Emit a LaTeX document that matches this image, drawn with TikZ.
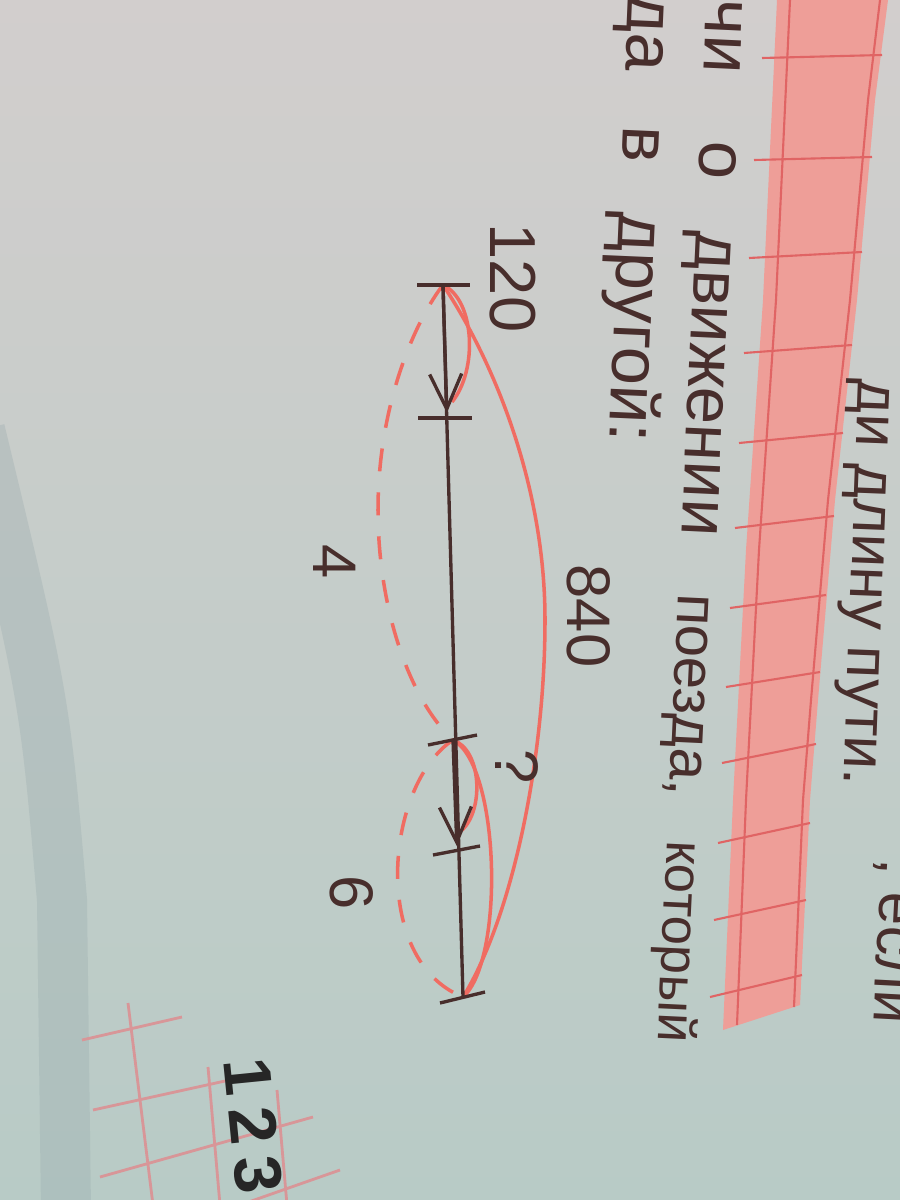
\documentclass[tikz,border=0pt]{standalone}
\usepackage{fontspec}
\setmainfont{Liberation Sans}
\newfontfamily\pagenofont[LetterSpace=18]{Liberation Sans}
\usetikzlibrary{arrows.meta,calc}
\definecolor{ink}{RGB}{72,46,44}
\definecolor{pen}{RGB}{240,108,98}
\definecolor{band}{RGB}{238,158,152}
\definecolor{bandline}{RGB}{224,100,100}
\definecolor{grid}{RGB}{216,150,152}
\definecolor{papertop}{RGB}{210,206,205}
\definecolor{paperbot}{RGB}{184,203,198}
\definecolor{edge}{RGB}{150,168,172}
\newcommand{\fs}[1]{\fontsize{#1}{#1}\selectfont}
\tikzstyle{axis} = [line width=0.95pt, ink]
\tikzstyle{move} = [axis, -{Straight Barb[length=3.5mm,width=3.2mm]}, shorten >=0.5mm]
\tikzstyle{redarc} = [line width=1pt, pen]
\tikzstyle{dasharc} = [redarc, dash pattern=on 2.3mm off 2.1mm]
\tikzstyle{num} = [font=\fs{17.5}, text=ink, rotate=-90, inner sep=0pt]
\tikzstyle{textline} = [font=\fs{17}, text=ink, anchor=base west, inner sep=0pt]

\begin{document}
\begin{tikzpicture}[x=0.01cm,y=-0.01cm]
  \clip (0,0) rectangle (900,1200);
  % paper and page edge
  \shade [top color=papertop, bottom color=paperbot] (0,0) rectangle (900,1200);
  \draw [edge, line width=5mm, opacity=0.3] (-20,430) .. controls (45,700) .. (62,900) -- (66,1210);
  % pink margin band
  \fill [band] (777,0) -- (763,300) -- (746,550) -- (733,800) -- (723,1030) -- (800,1005) -- (810,800)
    -- (818,700) -- (835,500) -- (857,300) -- (875,100) -- (888,0) -- cycle;
  \draw [bandline, line width=0.6pt] (790,0) -- (776,300) -- (759,550) -- (746,800) -- (737,1025);
  \draw [bandline, line width=0.6pt] (880,0) -- (868,100) -- (850,300) -- (828,500) -- (811,700) -- (803,800) -- (794,1007);
  \draw [bandline, line width=0.6pt] (762,58) -- (882,55) (754,160) -- (872,157) (749,258) -- (862,252)
    (744,353) -- (852,345) (739,443) -- (843,433) (735,528) -- (834,516) (730,608) -- (826,595)
    (726,687) -- (820,672) (722,763) -- (816,744) (718,843) -- (810,823) (714,920) -- (806,900)
    (710,997) -- (802,975);
  % grid in the corner
  \draw [grid, line width=0.8pt] (128,1003) -- (153,1205) (208,1067) -- (220,1205) (277,1090) -- (287,1205)
    (82,1040) -- (182,1017) (93,1110) -- (225,1081) (100,1177) -- (313,1117) (240,1205) -- (340,1170);

  % text
  \node (row1) [textline, rotate=-92.2] at (859,378) {ди длину пути.};
  \node (row0) [textline, rotate=-93] at (882,858) {, если};
  \node (row2) [textline, rotate=-92.7] at (707,-2) {\fs{19.5}\makebox[1.42cm][l]{чи}\makebox[0.9cm][l]{о}%
    \fs{19}\makebox[3.63cm][l]{движении}\fs{16.5}\makebox[2.47cm][l]{поезда,}\fs{15}который};
  \node (row3) [textline, rotate=-92.5] at (629,-8) {\fs{19.5}\makebox[1.33cm][l]{да}\makebox[0.86cm][l]{в}другой:};
  \node (pageno) [font=\pagenofont\bfseries\fs{19}, text=black!85, rotate=-84.3, inner sep=0pt] at (253,1126) {123};

  % segment
  \coordinate (p0) at (443,285);
  \coordinate (p1) at (447,418);
  \coordinate (p2) at (453,740);
  \coordinate (p3) at (457,851);
  \coordinate (p4) at (463,997);
  \coordinate (e1) at (452,402);
  \coordinate (e3) at (462,830);
  \coordinate (far) at (545,620);
  \coordinate (near) at (378,510);
  \draw [redarc] (p0) .. controls (475,300) and (478,370) .. (e1);
  \draw [redarc] (p0) .. controls (490,355) and (545,480) .. (far) .. controls (545,760) and (512,918) .. (p4);
  \draw [redarc] (p2) .. controls (482,750) and (484,810) .. (e3);
  \draw [redarc] (p2) .. controls (500,765) and (505,960) .. (p4);
  \draw [dasharc] (p0) .. controls (418,317) and (378,400) .. (near) .. controls (378,610) and (410,700) .. (p2);
  \draw [dasharc] (p2) .. controls (385,785) and (370,960) .. (p4);
  \draw [axis] (p0) -- (p4);
  \draw [move] (p0) -- (p1);
  \draw [move] (p2) -- (p3);
  \draw [axis] ($(p0)+(-26,0)$) -- ($(p0)+(27,0)$);
  \draw [axis] ($(p1)+(-29,0)$) -- ($(p1)+(25,0)$);
  \draw [axis] ($(p2)+(-25,5)$) -- ($(p2)+(24,-5)$);
  \draw [axis] ($(p3)+(-24,4)$) -- ($(p3)+(23,-5)$);
  \draw [axis] ($(p4)+(-23,6)$) -- ($(p4)+(22,-5)$);
  \node (n120) [num, font=\fs{18.5}] at (513,278) {120};
  \node (n840) [num] at (589,616) {840};
  \node (n4) [num] at (335,562) {4};
  \node (n6) [num] at (352,893) {6};
  \node (nq) [num] at (517,767) {?};
\end{tikzpicture}
\end{document}
